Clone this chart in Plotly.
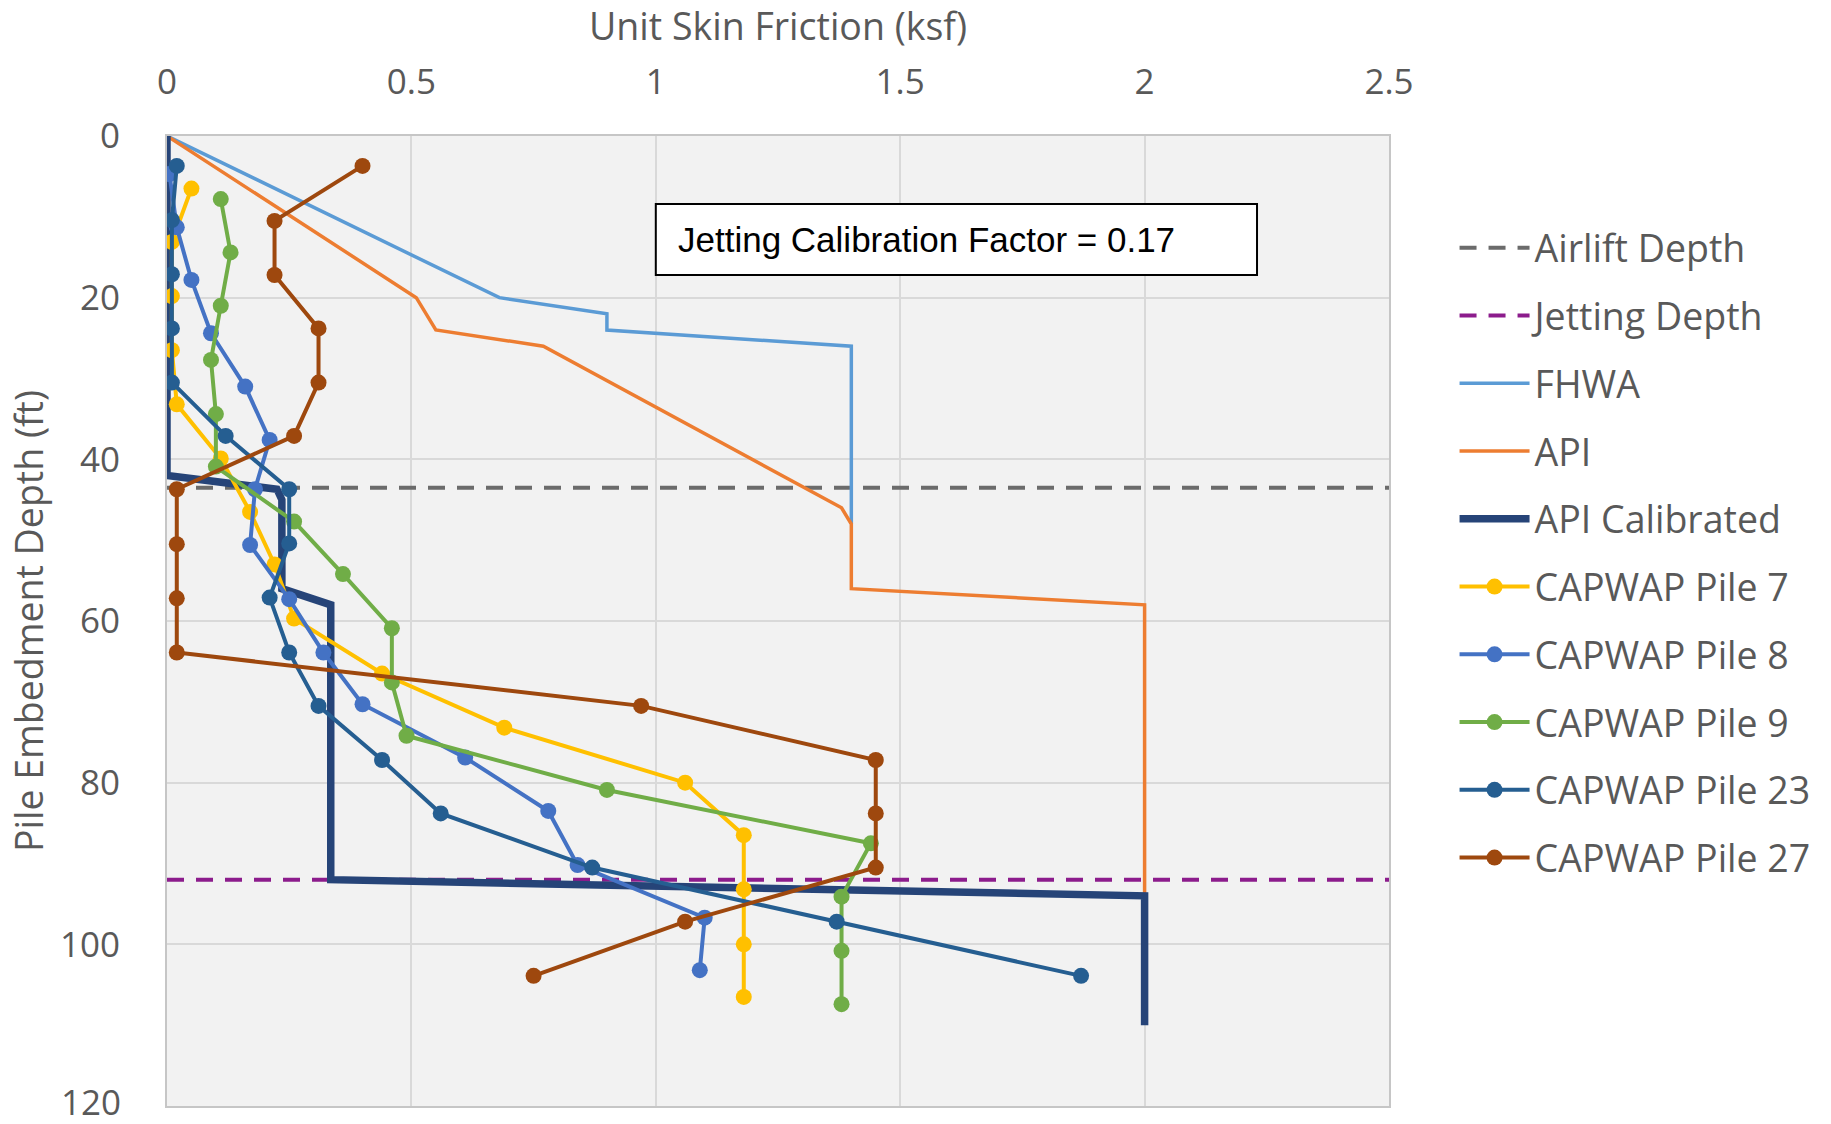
import plotly.graph_objects as go

# ---- depth markers (ft) ----
AIRLIFT_DEPTH = 43.5
JETTING_DEPTH = 92.0
CAL_FACTOR = 0.17

# ---- design curves: (unit skin friction ksf, depth ft) ----
fhwa_q = [0.0, 0.68, 0.90, 0.90, 1.40, 1.40]
fhwa_z = [0.0, 20.0, 22.0, 24.0, 26.0, 48.0]

api_q = [0.0, 0.51, 0.55, 0.77, 1.38, 1.40, 1.40, 2.00, 2.00]
api_z = [0.0, 20.0, 24.0, 26.0, 46.0, 48.0, 56.0, 58.0, 94.0]

apical_q = [0.0, 0.0, 0.225, 0.235, 0.235, 0.335, 0.335, 2.00, 2.00]
apical_z = [0.0, 42.0, 43.7, 45.0, 56.0, 58.0, 92.0, 94.0, 110.0]

# ---- CAPWAP results ----
p7_q = [0.05, 0.01, 0.01, 0.01, 0.02, 0.11, 0.17, 0.22, 0.26, 0.44, 0.69, 1.06, 1.18, 1.18, 1.18, 1.18]
p7_z = [6.5, 13.1, 19.8, 26.5, 33.2, 39.9, 46.5, 53.0, 59.7, 66.5, 73.2, 80.0, 86.5, 93.2, 100.0, 106.5]

p8_q = [0.005, 0.02, 0.05, 0.09, 0.16, 0.21, 0.18, 0.17, 0.25, 0.32, 0.40, 0.61, 0.78, 0.84, 1.10, 1.09]
p8_z = [4.7, 11.3, 17.8, 24.4, 31.0, 37.6, 43.7, 50.6, 57.3, 63.9, 70.3, 76.9, 83.5, 90.2, 96.7, 103.2]

p9_q = [0.11, 0.13, 0.11, 0.09, 0.10, 0.10, 0.26, 0.36, 0.46, 0.46, 0.49, 0.90, 1.44, 1.38, 1.38, 1.38]
p9_z = [7.8, 14.4, 21.0, 27.7, 34.4, 40.9, 47.7, 54.2, 60.9, 67.6, 74.2, 80.9, 87.5, 94.1, 100.8, 107.4]

p23_q = [0.02, 0.01, 0.01, 0.01, 0.01, 0.12, 0.25, 0.25, 0.21, 0.25, 0.31, 0.44, 0.56, 0.87, 1.37, 1.87]
p23_z = [3.7, 10.4, 17.1, 23.8, 30.5, 37.1, 43.7, 50.4, 57.1, 63.9, 70.5, 77.2, 83.8, 90.5, 97.2, 103.9]

p27_q = [0.40, 0.22, 0.22, 0.31, 0.31, 0.26, 0.02, 0.02, 0.02, 0.02, 0.97, 1.45, 1.45, 1.45, 1.06, 0.75]
p27_z = [3.7, 10.5, 17.2, 23.8, 30.5, 37.1, 43.7, 50.5, 57.2, 63.9, 70.5, 77.2, 83.8, 90.5, 97.2, 103.9]

X_RANGE = [0, 2.5]
Y_RANGE = [120, 0]
Y_TICKS = [0, 20, 40, 60, 80, 100, 120]

TEXT = "#595959"
FONT = "Open Sans"
TICK_FONT = dict(family=FONT, size=35, color=TEXT)
Y_LABEL_GAP = 38

fig = go.Figure()


def add_line(name, x, y, color, width, dash="solid", markers=False):
    fig.add_trace(go.Scatter(
        x=x, y=y, name=name, legendgroup=name,
        mode="lines+markers" if markers else "lines",
        line=dict(color=color, width=width, dash=dash),
        marker=dict(size=16, color=color),
        hoverinfo="x+y+name",
    ))


add_line("Airlift Depth", X_RANGE, [AIRLIFT_DEPTH, AIRLIFT_DEPTH], "#6B6B6B", 4, dash="17px,12px")
add_line("Jetting Depth", X_RANGE, [JETTING_DEPTH, JETTING_DEPTH], "#8C1C8C", 4, dash="17px,12px")
add_line("FHWA", fhwa_q, fhwa_z, "#5B9BD5", 3.5)
add_line("API", api_q, api_z, "#ED7D31", 3.5)
add_line("API Calibrated", apical_q, apical_z, "#264478", 7.5)
add_line("CAPWAP Pile 7", p7_q, p7_z, "#FFC000", 4, markers=True)
add_line("CAPWAP Pile 8", p8_q, p8_z, "#4472C4", 4, markers=True)
add_line("CAPWAP Pile 9", p9_q, p9_z, "#70AD47", 4, markers=True)
add_line("CAPWAP Pile 23", p23_q, p23_z, "#255E91", 4, markers=True)
add_line("CAPWAP Pile 27", p27_q, p27_z, "#9E480E", 4, markers=True)

# text box with the calibration factor
fig.add_shape(type="rect", xref="x", yref="y", x0=1.0, x1=2.23, y0=8.4, y1=17.2,
              line=dict(color="black", width=2), fillcolor="white", layer="above")
fig.add_annotation(x=1.042, y=12.8, xref="x", yref="y", xanchor="left", yanchor="middle",
                   text=f"Jetting Calibration Factor = {CAL_FACTOR:.2f}", showarrow=False,
                   font=dict(family="Liberation Sans, Arial, sans-serif",
                             size=35, color="black"))

# the deepest depth label sits on the bottom edge of the figure, so it is
# placed as a free label nudged up slightly to keep it fully inside the page
fig.add_annotation(x=0, xref="paper", xanchor="right", xshift=-Y_LABEL_GAP - 6,
                   y=Y_TICKS[-1], yref="y", yanchor="middle", yshift=5,
                   text=str(Y_TICKS[-1]), showarrow=False, font=TICK_FONT)

fig.update_xaxes(
    range=X_RANGE, side="top", dtick=0.5, tickformat="~g",
    showgrid=True, gridcolor="#D9D9D9", gridwidth=2,
    zeroline=False, showline=True, linecolor="#C6C6C6", linewidth=2, mirror=True,
    ticks="", ticklabelstandoff=26, automargin=False,
    tickfont=TICK_FONT,
    title=dict(text="Unit Skin Friction (ksf)", standoff=32,
               font=dict(family=FONT, size=37.5, color=TEXT)),
)
fig.update_yaxes(
    range=Y_RANGE, tickvals=Y_TICKS[:-1],
    showgrid=True, gridcolor="#D9D9D9", gridwidth=2,
    zeroline=False, showline=True, linecolor="#C6C6C6", linewidth=2, mirror=True,
    ticks="", ticklabelstandoff=Y_LABEL_GAP, automargin=False,
    tickfont=TICK_FONT,
    title=dict(text="Pile Embedment Depth (ft)", standoff=5,
               font=dict(family=FONT, size=37.5, color=TEXT)),
)

fig.update_layout(
    width=1831, height=1124,
    margin=dict(l=167, r=442, t=136, b=18, autoexpand=False),
    plot_bgcolor="#F2F2F2", paper_bgcolor="white",
    showlegend=True,
    legend=dict(
        xref="container", yref="container", x=0.7944, y=0.807,
        xanchor="left", yanchor="top",
        font=dict(family=FONT, size=37.5, color=TEXT),
        itemwidth=70, tracegroupgap=16, traceorder="grouped",
        maxheight=1000,
        bgcolor="rgba(0,0,0,0)",
    ),
)

fig.write_html("out.html")
